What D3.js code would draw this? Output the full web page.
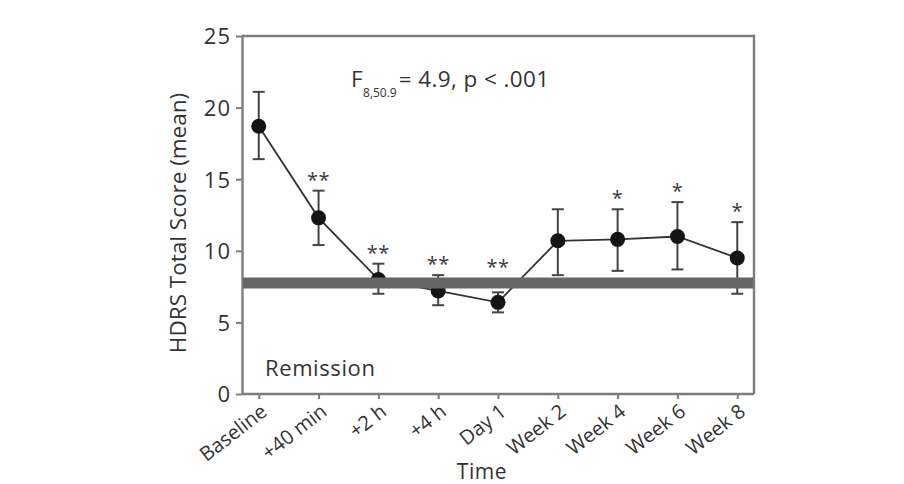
<!DOCTYPE html>
<html>
<head>
<meta charset="utf-8">
<script src="https://cdn.jsdelivr.net/npm/d3@7/dist/d3.min.js"></script>
<style>
  html, body { margin: 0; padding: 0; background: #fff; }
  svg { display: block; font-family: "Open Sans", "Noto Sans", sans-serif; }
</style>
</head>
<body>
<svg id="chart" width="904" height="484"></svg>
<script>
// ---- data ----
const categories = ["Baseline", "+40 min", "+2 h", "+4 h", "Day 1", "Week 2", "Week 4", "Week 6", "Week 8"];
const means      = [18.7, 12.3, 8.0, 7.2, 6.4, 10.7, 10.8, 11.0, 9.5];
const upper      = [21.1, 14.2, 9.1, 8.3, 7.1, 12.9, 12.9, 13.4, 12.0];
const lower      = [16.4, 10.4, 7.0, 6.2, 5.7, 8.3, 8.6, 8.7, 7.0];
const stars      = ["", "**", "**", "**", "**", "", "*", "*", "*"];
const yTicks     = [0, 5, 10, 15, 20, 25];
const remission  = 7.75;
const remissionLabel = "Remission";
const yTitle = "HDRS Total Score (mean)";
const xTitle = "Time";

// ---- layout ----
const pL = 242, pR = 754, pT = 36, pB = 394;
const svg = d3.select("#chart");
const textColor = "#333";
const frameColor = "#7c7c7c";

const x = d3.scalePoint().domain(categories).range([pL, pR]).padding(0.28);
const y = d3.scaleLinear().domain([0, 25]).range([pB, pT]);

const data = categories.map((c, i) => ({c, m: means[i], hi: upper[i], lo: lower[i], s: stars[i]}));

// frame (top & right)
svg.append("path")
  .attr("d", `M${pL},${pT}H${pR}V${pB}`)
  .attr("fill", "none").attr("stroke", frameColor).attr("stroke-width", 2.4);

// y axis
const yAxis = svg.append("g").attr("transform", `translate(${pL},0)`)
  .call(d3.axisLeft(y).tickValues(yTicks).tickSize(6).tickPadding(5).tickSizeOuter(0));
yAxis.select(".domain").attr("stroke", frameColor).attr("stroke-width", 2.4);
yAxis.selectAll(".tick line").attr("stroke", frameColor).attr("stroke-width", 2);
yAxis.selectAll(".tick text").attr("fill", textColor).attr("font-size", 22)
  .attr("letter-spacing", 1)
  .attr("font-family", "Open Sans, sans-serif").attr("dy", "0.36em");

// x axis
const xAxis = svg.append("g").attr("transform", `translate(0,${pB})`)
  .call(d3.axisBottom(x).tickSize(5).tickSizeOuter(0));
xAxis.select(".domain").attr("stroke", frameColor).attr("stroke-width", 2.4)
  .attr("d", `M${pL},0H${pR}`);
xAxis.selectAll(".tick line").attr("stroke", frameColor).attr("stroke-width", 2);
xAxis.selectAll(".tick text")
  .attr("fill", textColor).attr("font-size", 20).attr("font-family", "Open Sans, sans-serif")
  .attr("text-anchor", "end").attr("dy", null).attr("y", null)
  .attr("transform", "translate(9,20) rotate(-38)");

// error bars
const eb = svg.append("g").attr("stroke", "#444").attr("stroke-width", 2);
data.forEach(d => {
  const cx = x(d.c);
  eb.append("line").attr("x1", cx).attr("x2", cx).attr("y1", y(d.hi)).attr("y2", y(d.lo));
  eb.append("line").attr("x1", cx - 6).attr("x2", cx + 6).attr("y1", y(d.hi)).attr("y2", y(d.hi));
  eb.append("line").attr("x1", cx - 6).attr("x2", cx + 6).attr("y1", y(d.lo)).attr("y2", y(d.lo));
});

// line
svg.append("path").datum(data)
  .attr("d", d3.line().x(d => x(d.c)).y(d => y(d.m)))
  .attr("fill", "none").attr("stroke", "#333").attr("stroke-width", 1.8);

// points
svg.append("g").selectAll("circle").data(data).join("circle")
  .attr("cx", d => x(d.c)).attr("cy", d => y(d.m)).attr("r", 7.5)
  .attr("fill", "#141414");

// remission band
svg.append("line")
  .attr("x1", pL + 1).attr("x2", pR - 1)
  .attr("y1", y(remission)).attr("y2", y(remission))
  .attr("stroke", "#666").attr("stroke-width", 11);

// stars
const bandTop = y(remission) - 5.5;
svg.append("g").selectAll("text").data(data.filter(d => d.s)).join("text")
  .attr("x", d => x(d.c))
  .attr("y", d => Math.min(y(d.hi), bandTop) - 4)
  .attr("text-anchor", "middle").attr("font-size", 20).attr("fill", "#3a3a3a")
  .attr("letter-spacing", 0.5)
  .text(d => d.s);

// remission label
svg.append("text").attr("x", 265).attr("y", 376)
  .attr("font-size", 22).attr("letter-spacing", 0.6).attr("fill", textColor).text(remissionLabel);

// statistic annotation
const ann = svg.append("text").attr("x", 351).attr("y", 87).attr("font-size", 22.5)
  .attr("letter-spacing", 0.4).attr("fill", textColor);
ann.append("tspan").text("F");
ann.append("tspan").attr("font-size", 12).attr("letter-spacing", 0).attr("dy", 10).attr("dx", 0).text("8,50.9");
ann.append("tspan").attr("dy", -10).attr("dx", 2).text("= 4.9, p < .001");

// axis titles
svg.append("text")
  .attr("transform", `translate(186,${(pT + pB) / 2 + 8}) rotate(-90)`)
  .attr("text-anchor", "middle").attr("font-size", 22.5).attr("fill", textColor)
  .text(yTitle);
svg.append("text").attr("x", 482).attr("y", 479)
  .attr("text-anchor", "middle").attr("font-size", 21).attr("letter-spacing", 0.6).attr("fill", textColor)
  .text(xTitle);
</script>
</body>
</html>
